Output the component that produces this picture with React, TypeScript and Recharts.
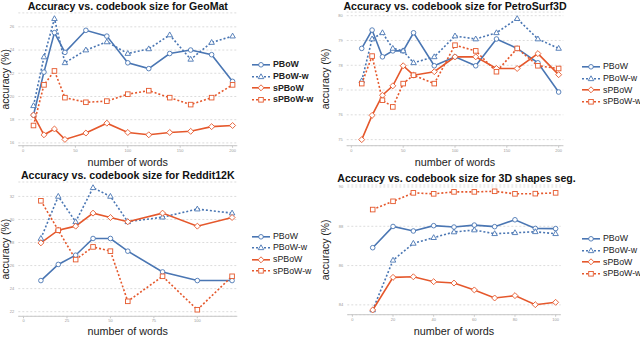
import React from 'react';
import { LineChart, Line, XAxis, YAxis, CartesianGrid, Legend } from 'recharts';

// GeoMat
const geoWords = [10, 20, 30, 40, 60, 80, 100, 120, 140, 160, 180, 200];
const geoPBoW = [18.4, 22.1, 25.5, 23.8, 25.7, 25.2, 22.9, 22.4, 23.7, 24.0, 23.6, 21.3];
const geoPBoWw = [19.2, 23.4, 26.7, 22.9, 24.0, 24.7, 23.7, 24.1, 25.3, 23.2, 24.65, 25.2];
const geoSPBoW = [18.4, 16.7, 17.2, 16.3, 16.85, 17.7, 16.9, 16.7, 16.9, 17.0, 17.4, 17.5];
const geoSPBoWw = [17.5, 21.0, 22.2, 19.9, 19.5, 19.6, 20.2, 20.5, 19.9, 19.3, 19.9, 21.0];

// PetroSurf3D
const petroWords = [10, 20, 30, 40, 50, 60, 80, 100, 120, 140, 160, 180, 200];
const petroPBoW = [78.68, 79.42, 78.34, 78.58, 78.58, 79.31, 77.98, 78.34, 77.98, 79.06, 78.68, 78.1, 76.92];
const petroPBoWw = [77.37, 79.06, 79.31, 78.68, 78.58, 78.1, 78.34, 79.18, 79.06, 79.31, 79.88, 79.06, 78.68];
const petroSPBoW = [75.0, 75.98, 76.79, 77.17, 77.98, 77.6, 77.74, 78.34, 78.34, 77.87, 77.87, 78.47, 77.62];
const petroSPBoWw = [77.26, 78.37, 76.59, 76.32, 77.26, 77.6, 77.26, 78.81, 78.58, 77.74, 78.68, 77.98, 77.87];

// Reddit12K
const redditWords = [10, 20, 30, 40, 50, 60, 80, 100, 120];
const redditPBoW = [24.7, 26.1, 26.9, 28.35, 28.35, 27.25, 25.45, 24.7, 24.7];
const redditPBoWw = [28.35, 32.0, 29.8, 32.75, 32.0, 29.8, 30.2, 30.9, 30.55];
const redditSPBoW = [27.97, 29.07, 29.42, 30.55, 30.17, 29.8, 30.55, 29.42, 30.17];
const redditSPBoWw = [31.62, 29.07, 26.52, 27.62, 27.25, 22.9, 25.07, 22.17, 25.07];

// 3D shapes segmentation
const segWords = [10, 20, 30, 40, 50, 60, 70, 80, 90, 100];
const segPBoW = [86.91, 87.99, 87.76, 88.03, 87.96, 88.06, 87.98, 88.33, 87.89, 87.88];
const segPBoWw = [83.74, 86.27, 87.13, 87.42, 87.71, 87.81, 87.62, 87.67, 87.72, 87.62];
const segSPBoW = [83.74, 85.4, 85.43, 85.18, 85.11, 84.76, 84.35, 84.47, 84.01, 84.13];
const segSPBoWw = [88.85, 89.27, 89.7, 89.65, 89.75, 89.75, 89.78, 89.65, 89.66, 89.7];

const BLUE = '#4a76b3';
const ORANGE = '#e5582c';
const FONT = '"Liberation Sans", Arial, Helvetica, sans-serif';

type Shape = 'circle' | 'triangle' | 'diamond' | 'square';

const SERIES: { key: string; color: string; dash?: string; shape: Shape }[] = [
  { key: 'PBoW', color: BLUE, shape: 'circle' },
  { key: 'PBoW-w', color: BLUE, dash: '2 2', shape: 'triangle' },
  { key: 'sPBoW', color: ORANGE, shape: 'diamond' },
  { key: 'sPBoW-w', color: ORANGE, dash: '2 2', shape: 'square' },
];

const makeRows = (words: number[], a: number[], b: number[], c: number[], d: number[]) =>
  words.map((w, i) => ({ words: w, PBoW: a[i], 'PBoW-w': b[i], sPBoW: c[i], 'sPBoW-w': d[i] }));

const geoData = makeRows(geoWords, geoPBoW, geoPBoWw, geoSPBoW, geoSPBoWw);
const petroData = makeRows(petroWords, petroPBoW, petroPBoWw, petroSPBoW, petroSPBoWw);
const redditData = makeRows(redditWords, redditPBoW, redditPBoWw, redditSPBoW, redditSPBoWw);
const segData = makeRows(segWords, segPBoW, segPBoWw, segSPBoW, segSPBoWw);

function marker(shape: Shape, cx: number, cy: number, color: string, key?: string | number) {
  const r = 2.3;
  const common = { fill: '#fff', stroke: color, strokeWidth: 0.9 };
  if (shape === 'circle') return <circle key={key} cx={cx} cy={cy} r={r} {...common} />;
  if (shape === 'triangle')
    return (
      <polygon
        key={key}
        points={`${cx},${cy - r * 1.3} ${cx + r * 1.2},${cy + r * 0.8} ${cx - r * 1.2},${cy + r * 0.8}`}
        {...common}
      />
    );
  if (shape === 'diamond')
    return (
      <polygon
        key={key}
        points={`${cx},${cy - r * 1.3} ${cx + r * 1.3},${cy} ${cx},${cy + r * 1.3} ${cx - r * 1.3},${cy}`}
        {...common}
      />
    );
  return <rect key={key} x={cx - r} y={cy - r} width={r * 2} height={r * 2} {...common} />;
}

const LegendBox = ({ bold }: { bold?: boolean }) => (
  <div style={{ fontFamily: FONT }}>
    {SERIES.map((s) => (
      <div key={s.key} style={{ display: 'flex', alignItems: 'center', height: 11.6 }}>
        <svg width={18} height={11.6} style={{ display: 'block' }}>
          <line x1={0} y1={5.8} x2={18} y2={5.8} stroke={s.color} strokeWidth={1.6} strokeDasharray={s.dash} />
          {marker(s.shape, 9, 5.8, s.color)}
        </svg>
        <span style={{ marginLeft: 3, fontSize: 8.8, color: '#222', fontWeight: bold ? 700 : 400, lineHeight: 1 }}>
          {s.key}
        </span>
      </div>
    ))}
  </div>
);

interface PanelProps {
  data: any[];
  title: string;
  left: number;
  top: number;
  height: number;
  titleTop: number;
  marginTop: number;
  plotRight: number;
  yAxisWidth: number;
  xAxisHeight: number;
  xDomain: [number, number];
  xTicks: number[];
  yDomain: [number, number];
  yTicks: number[];
  legendLeft: number;
  legendTop: number;
  boldLegend?: boolean;
}

const LEGEND_W = 66;

const Panel = (p: PanelProps) => (
  <div style={{ position: 'absolute', left: p.left, top: p.top, width: 320, height: p.height }}>
    <LineChart
      width={320}
      height={p.height}
      data={p.data}
      margin={{ top: p.marginTop, right: 320 - p.plotRight - LEGEND_W, left: 0, bottom: 0 }}
    >
      <CartesianGrid vertical={false} stroke="#dcdcdc" strokeDasharray="2 2" />
      <XAxis
        type="number"
        dataKey="words"
        domain={p.xDomain}
        ticks={p.xTicks}
        allowDataOverflow
        height={p.xAxisHeight}
        tickSize={2}
        tickMargin={1}
        axisLine={{ stroke: '#c8c8c8' }}
        tickLine={{ stroke: '#c8c8c8' }}
        tick={{ fontSize: 4, fill: '#999' }}
        label={{
          value: 'number of words',
          position: 'insideBottom',
          offset: 2,
          style: { fontSize: 10.8, fill: '#222', fontFamily: FONT },
        }}
      />
      <YAxis
        type="number"
        domain={p.yDomain}
        ticks={p.yTicks}
        allowDataOverflow
        width={p.yAxisWidth}
        axisLine={false}
        tickLine={false}
        tickSize={2}
        tickMargin={2}
        tick={{ fontSize: 4, fill: '#999' }}
        label={{
          value: 'accuracy (%)',
          angle: -90,
          position: 'insideLeft',
          offset: 5,
          style: { textAnchor: 'middle', fontSize: 10.4, fill: '#222', fontFamily: FONT },
        }}
      />
      <Legend
        layout="vertical"
        align="right"
        verticalAlign="top"
        wrapperStyle={{ left: p.legendLeft, top: p.legendTop, width: LEGEND_W }}
        content={() => <LegendBox bold={p.boldLegend} />}
      />
      {SERIES.map((s) => (
        <Line
          key={s.key}
          type="linear"
          dataKey={s.key}
          name={s.key}
          stroke={s.color}
          strokeWidth={1.6}
          strokeDasharray={s.dash}
          activeDot={false}
          isAnimationActive={false}
          dot={(d: any) => marker(s.shape, d.cx, d.cy, s.color, `${s.key}-${d.index}`)}
        />
      ))}
    </LineChart>
    <div
      style={{
        position: 'absolute',
        left: p.yAxisWidth - 10,
        width: p.plotRight - p.yAxisWidth + 20,
        top: p.titleTop,
        textAlign: 'center',
        fontFamily: FONT,
        fontWeight: 700,
        fontSize: 10.6,
        lineHeight: '12px',
        color: '#111',
        whiteSpace: 'nowrap',
      }}
    >
      {p.title}
    </div>
  </div>
);

export default function App() {
  return (
    <div
      style={{
        position: 'absolute',
        left: 0,
        top: 0,
        width: 640,
        height: 337,
        background: '#fff',
        overflow: 'hidden',
        fontFamily: FONT,
      }}
    >
      <Panel
        data={geoData}
        title="Accuracy vs. codebook size for GeoMat"
        left={0}
        top={0}
        height={168}
        titleTop={0}
        marginTop={12.9}
        plotRight={237.3}
        yAxisWidth={18.3}
        xAxisHeight={22.3}
        xDomain={[-4.5, 204.5]}
        xTicks={[0, 50, 100, 150, 200]}
        yDomain={[15.76, 27.2]}
        yTicks={[16, 18, 20, 22, 24, 26]}
        legendLeft={252}
        legendTop={59}
        boldLegend
      />
      <Panel
        data={petroData}
        title="Accuracy vs. codebook size for PetroSurf3D"
        left={320}
        top={0}
        height={168}
        titleTop={0}
        marginTop={12.1}
        plotRight={243.3}
        yAxisWidth={26.7}
        xAxisHeight={22.3}
        xDomain={[-4.5, 204.5]}
        xTicks={[0, 50, 100, 150, 200]}
        yDomain={[74.755, 80.145]}
        yTicks={[75, 76, 77, 78, 79, 80]}
        legendLeft={262}
        legendTop={61}
      />
      <Panel
        data={redditData}
        title="Accuracy vs. codebook size for Reddit12K"
        left={0}
        top={168}
        height={169}
        titleTop={1.3}
        marginTop={14}
        plotRight={237.3}
        yAxisWidth={18.3}
        xAxisHeight={20.7}
        xDomain={[-3, 123]}
        xTicks={[0, 25, 50, 75, 100]}
        yDomain={[21.6, 33.25]}
        yTicks={[22, 24, 26, 28, 30, 32]}
        legendLeft={252}
        legendTop={62.5}
      />
      <Panel
        data={segData}
        title="Accuracy vs. codebook size for 3D shapes seg."
        left={320}
        top={168}
        height={169}
        titleTop={4}
        marginTop={17}
        plotRight={240.7}
        yAxisWidth={27.3}
        xAxisHeight={22.3}
        xDomain={[-2.5, 102.5]}
        xTicks={[0, 20, 40, 60, 80, 100]}
        yDomain={[83.5, 90.1]}
        yTicks={[84, 86, 88, 90]}
        legendLeft={262}
        legendTop={65}
      />
    </div>
  );
}
